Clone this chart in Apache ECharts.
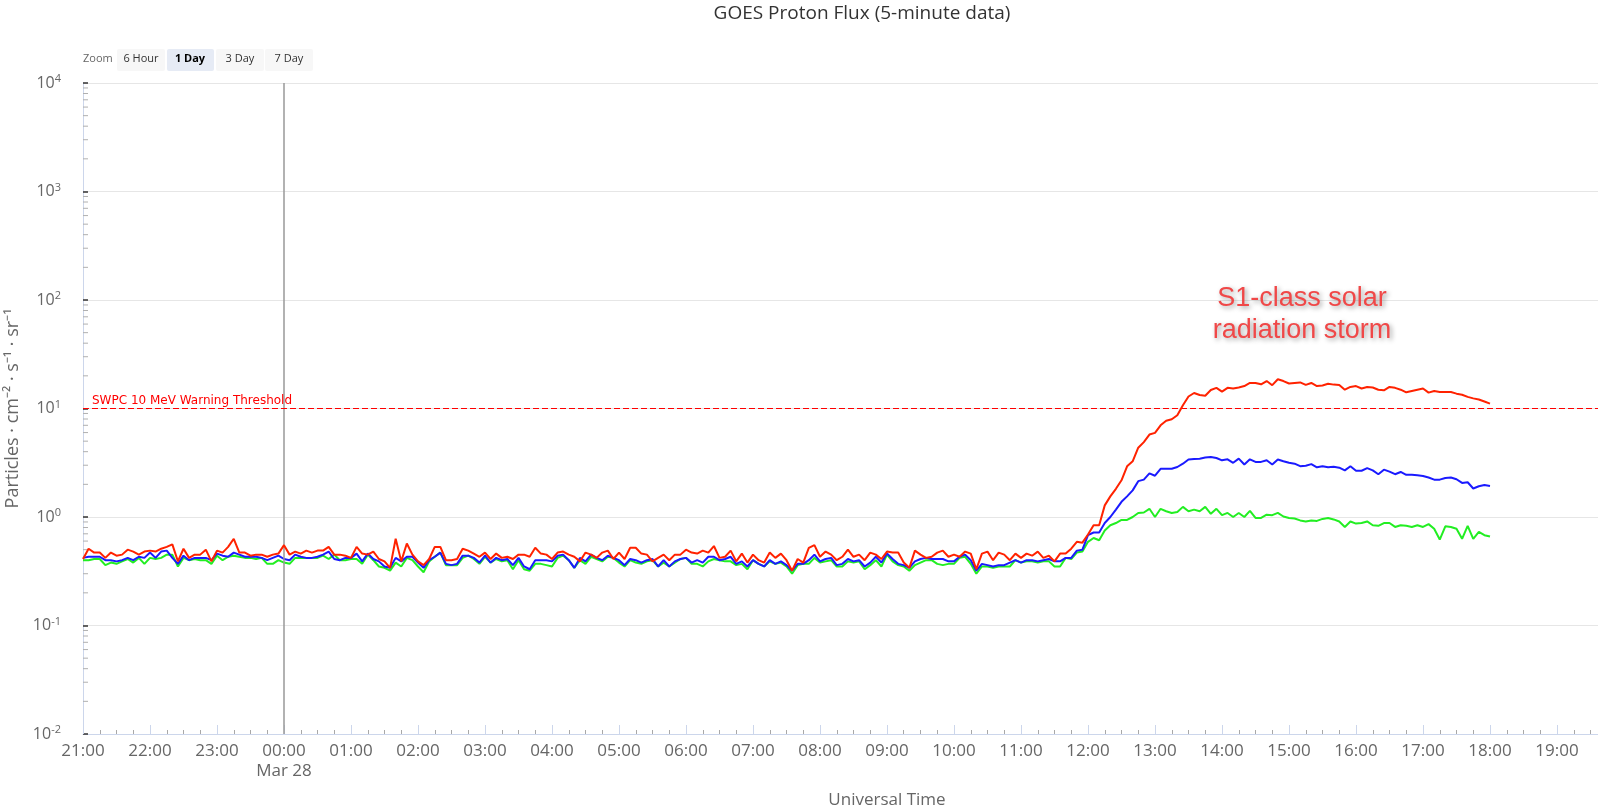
<!DOCTYPE html>
<html><head><meta charset="utf-8">
<script src="https://cdn.jsdelivr.net/npm/echarts@6/dist/echarts.min.js"></script>
<style>html,body{margin:0;padding:0;background:#fff}#c{width:1598px;height:805px}</style>
</head><body><div id="c"></div>
<script>
// ---- data (5-minute GOES proton flux, pfu) ----
const startTime = Date.UTC(2024, 2, 27, 21, 0, 0);   // first sample
const stepMinutes = 5;
const axisStart = Date.UTC(2024, 2, 27, 21, 0, 0);
const axisEnd = Date.UTC(2024, 2, 28, 21, 0, 0);
const midnightMark = Date.UTC(2024, 2, 28, 0, 0, 0);
const thresholdValue = 10;
const thresholdLabel = 'SWPC 10 MeV Warning Threshold';
const seriesNames = ['\u226510 MeV', '\u226550 MeV', '\u2265100 MeV'];
const yMinorTickValues = [
  0.02,0.03,0.04,0.05,0.06,0.07,0.08,0.09,
  0.2,0.3,0.4,0.5,0.6,0.7,0.8,0.9,
  2,3,4,5,6,7,8,9,
  20,30,40,50,60,70,80,90,
  200,300,400,500,600,700,800,900,
  2000,3000,4000,5000,6000,7000,8000,9000
];

const red10MeV = [
  0.41,0.51,0.47,0.47,0.42,0.47,0.44,0.45,0.50,0.48,
  0.45,0.48,0.49,0.48,0.51,0.53,0.56,0.39,0.51,0.42,
  0.45,0.45,0.50,0.39,0.49,0.47,0.53,0.63,0.47,0.47,
  0.44,0.45,0.45,0.43,0.45,0.46,0.55,0.45,0.48,0.46,
  0.49,0.47,0.49,0.49,0.53,0.45,0.45,0.44,0.42,0.53,
  0.46,0.45,0.48,0.41,0.39,0.34,0.63,0.39,0.57,0.45,
  0.39,0.36,0.41,0.53,0.53,0.40,0.40,0.41,0.51,0.49,
  0.46,0.43,0.47,0.41,0.46,0.42,0.43,0.41,0.45,0.45,
  0.43,0.52,0.46,0.45,0.41,0.47,0.48,0.45,0.43,0.39,
  0.47,0.45,0.42,0.47,0.49,0.41,0.47,0.41,0.52,0.52,
  0.46,0.45,0.39,0.42,0.45,0.40,0.45,0.45,0.50,0.47,
  0.46,0.49,0.47,0.54,0.42,0.43,0.49,0.39,0.46,0.38,
  0.45,0.40,0.38,0.47,0.42,0.46,0.40,0.32,0.41,0.38,
  0.52,0.55,0.43,0.48,0.45,0.40,0.43,0.50,0.43,0.45,
  0.40,0.47,0.45,0.41,0.48,0.47,0.47,0.38,0.34,0.49,
  0.45,0.42,0.43,0.47,0.49,0.43,0.45,0.43,0.48,0.46,
  0.33,0.46,0.48,0.40,0.47,0.45,0.40,0.46,0.42,0.46,
  0.44,0.48,0.42,0.44,0.39,0.46,0.46,0.51,0.59,0.58,
  0.69,0.84,0.84,1.28,1.55,1.82,2.18,2.93,3.26,4.35,
  4.9,5.75,5.96,7.0,7.7,7.95,8.67,10.7,12.9,13.9,
  13.3,13.1,14.8,15.5,14.3,15.5,15.3,15.6,16.1,17.2,
  17.2,16.7,17.9,16.4,18.6,17.9,17.0,17.2,17.4,16.5,
  17.2,16.1,16.3,16.9,16.6,16.5,14.9,15.8,16.1,15.3,
  15.8,15.6,14.9,14.7,15.8,15.5,14.9,14.1,14.5,14.9,
  15.3,14.0,14.5,14.2,14.2,14.2,13.7,13.4,12.8,12.4,
  12.1,11.6,11.1
];
const blue50MeV = [
  0.42,0.43,0.43,0.43,0.40,0.40,0.39,0.40,0.42,0.40,
  0.43,0.42,0.47,0.42,0.48,0.49,0.42,0.37,0.44,0.40,
  0.42,0.42,0.42,0.40,0.46,0.44,0.43,0.47,0.45,0.43,
  0.43,0.43,0.42,0.40,0.42,0.44,0.41,0.40,0.45,0.43,
  0.42,0.42,0.43,0.45,0.48,0.41,0.40,0.42,0.42,0.46,
  0.39,0.46,0.41,0.39,0.35,0.34,0.42,0.39,0.43,0.43,
  0.38,0.34,0.40,0.43,0.47,0.37,0.36,0.37,0.44,0.44,
  0.42,0.38,0.44,0.38,0.42,0.40,0.41,0.36,0.42,0.35,
  0.33,0.40,0.40,0.40,0.39,0.44,0.45,0.40,0.34,0.42,
  0.39,0.45,0.42,0.40,0.44,0.42,0.40,0.36,0.41,0.40,
  0.38,0.40,0.41,0.35,0.40,0.35,0.39,0.41,0.42,0.38,
  0.40,0.38,0.43,0.43,0.40,0.41,0.43,0.37,0.39,0.35,
  0.40,0.37,0.35,0.40,0.37,0.39,0.36,0.32,0.37,0.37,
  0.40,0.45,0.39,0.41,0.42,0.36,0.37,0.41,0.39,0.40,
  0.35,0.38,0.43,0.38,0.46,0.41,0.37,0.36,0.34,0.39,
  0.41,0.42,0.41,0.41,0.41,0.39,0.39,0.43,0.45,0.40,
  0.32,0.37,0.36,0.35,0.36,0.36,0.38,0.40,0.38,0.40,
  0.40,0.39,0.40,0.41,0.39,0.39,0.42,0.42,0.49,0.50,
  0.68,0.72,0.72,0.88,1.00,1.17,1.38,1.55,1.76,2.14,
  2.21,2.52,2.40,2.78,2.78,2.78,2.89,3.10,3.39,3.43,
  3.45,3.53,3.58,3.50,3.33,3.40,3.16,3.45,3.05,3.40,
  3.22,3.22,3.33,3.05,3.39,3.27,3.16,3.10,2.94,2.97,
  3.07,2.87,2.94,2.87,2.90,2.85,2.69,2.94,2.67,2.67,
  2.82,2.69,2.48,2.73,2.62,2.48,2.60,2.45,2.45,2.42,
  2.39,2.31,2.21,2.21,2.29,2.31,2.23,2.06,2.09,1.83,
  1.92,1.97,1.93
];
const green100MeV = [
  0.40,0.40,0.41,0.41,0.36,0.38,0.37,0.39,0.41,0.38,
  0.42,0.37,0.42,0.41,0.42,0.45,0.45,0.35,0.42,0.40,
  0.41,0.40,0.40,0.37,0.44,0.40,0.43,0.44,0.43,0.42,
  0.42,0.41,0.42,0.37,0.37,0.40,0.38,0.37,0.42,0.42,
  0.42,0.42,0.42,0.44,0.41,0.45,0.40,0.40,0.41,0.41,
  0.37,0.45,0.40,0.35,0.34,0.32,0.38,0.35,0.42,0.40,
  0.35,0.31,0.39,0.43,0.47,0.36,0.36,0.36,0.42,0.44,
  0.41,0.37,0.43,0.38,0.41,0.39,0.40,0.33,0.40,0.33,
  0.32,0.37,0.37,0.36,0.35,0.42,0.44,0.40,0.34,0.40,
  0.37,0.43,0.41,0.39,0.43,0.42,0.38,0.35,0.40,0.38,
  0.37,0.39,0.40,0.35,0.38,0.35,0.38,0.41,0.42,0.37,
  0.37,0.35,0.39,0.41,0.40,0.39,0.39,0.36,0.37,0.33,
  0.40,0.37,0.35,0.39,0.37,0.38,0.35,0.30,0.36,0.37,
  0.37,0.42,0.38,0.39,0.40,0.35,0.35,0.39,0.38,0.39,
  0.33,0.36,0.40,0.35,0.45,0.39,0.36,0.35,0.32,0.36,
  0.38,0.40,0.40,0.37,0.36,0.37,0.37,0.42,0.43,0.37,
  0.30,0.35,0.35,0.34,0.35,0.35,0.35,0.40,0.38,0.39,
  0.39,0.38,0.39,0.39,0.35,0.35,0.42,0.41,0.47,0.48,
  0.59,0.64,0.61,0.75,0.84,0.88,0.94,0.94,1.00,1.09,
  1.10,1.19,1.00,1.19,1.13,1.09,1.11,1.24,1.13,1.17,
  1.13,1.24,1.07,1.19,1.04,1.09,1.00,1.09,1.00,1.14,
  0.98,0.98,1.05,1.04,1.09,1.01,0.98,0.97,0.93,0.91,
  0.93,0.92,0.96,0.98,0.95,0.91,0.81,0.91,0.87,0.88,
  0.91,0.84,0.83,0.88,0.88,0.81,0.84,0.83,0.81,0.84,
  0.81,0.86,0.78,0.62,0.82,0.81,0.78,0.63,0.83,0.63,
  0.73,0.68,0.66
];

// ---- build ----
const stepMs = stepMinutes * 60000;
const toPairs = arr => arr.map((v, i) => [startTime + i * stepMs, v]);
const pad = n => (n < 10 ? '0' : '') + n;
const FONT = 'Open Sans';

const chart = echarts.init(document.getElementById('c'), null, {renderer: 'canvas'});

const lineBase = {
  type: 'line', showSymbol: false, symbol: 'none', smooth: false,
  animation: false, silent: true, lineStyle: {width: 2}
};

const option = {
  animation: false,
  backgroundColor: '#ffffff',
  grid: {left: 83, right: -93, top: 83, bottom: 71, containLabel: false, outerBoundsMode: 'none'},
  xAxis: {
    type: 'value', min: axisStart, max: axisEnd, interval: 3600000,
    name: 'Universal Time', nameLocation: 'middle', nameGap: 58,
    nameTextStyle: {color: '#666', fontSize: 17, fontFamily: FONT},
    axisLine: {show: true, lineStyle: {color: '#ccd6eb', width: 1}},
    axisTick: {show: true, inside: true, length: 9, lineStyle: {color: '#ccd6eb', width: 1}},
    minorTick: {show: true, splitNumber: 4, length: 4, lineStyle: {color: '#a8a8a8', width: 1}},
    splitLine: {show: false},
    axisLabel: {
      color: '#666', fontSize: 17, fontFamily: FONT, margin: 7, lineHeight: 20,
      showMaxLabel: false,
      formatter: v => {
        const d = new Date(v);
        const s = pad(d.getUTCHours()) + ':' + pad(d.getUTCMinutes());
        if (v === midnightMark) return s + '\nMar 28';
        return s;
      }
    }
  },
  yAxis: {
    type: 'log', logBase: 10, min: 0.01, max: 10000, interval: 1, splitNumber: 6,
    name: 'Particles \u00b7 cm\u207b\u00b2 \u00b7 s\u207b\u00b9 \u00b7 sr\u207b\u00b9',
    nameLocation: 'middle', nameGap: 56,
    nameTextStyle: {color: '#666', fontSize: 18, fontFamily: FONT},
    axisLine: {show: true, lineStyle: {color: '#ccd6eb', width: 1}},
    axisTick: {show: true, inside: true, length: 5, lineStyle: {color: '#333', width: 1.5}},
    splitLine: {show: true, lineStyle: {color: '#e6e6e6', width: 1}},
    axisLabel: {
      margin: 22,
      formatter: v => '{b|10}{s|' + Math.round(Math.log10(v)) + '}',
      rich: {
        b: {fontSize: 16, fontFamily: FONT, color: '#666', lineHeight: 19},
        s: {fontSize: 11, fontFamily: FONT, color: '#666', verticalAlign: 'top', lineHeight: 11}
      }
    }
  },
  series: [
    {
      type: 'custom', silent: true, animation: false, clip: false, z: 1,
      data: yMinorTickValues.map(v => [axisStart, v]),
      encode: {x: 0, y: 1},
      renderItem: (params, api) => {
        const p = api.coord([api.value(0), api.value(1)]);
        return {type: 'line', shape: {x1: p[0], y1: p[1], x2: p[0] + 5, y2: p[1]},
                style: {stroke: '#b0b0b0', lineWidth: 1}};
      }
    },
    Object.assign({}, lineBase, {name: seriesNames[2], data: toPairs(green100MeV), color: '#22ee22', z: 3}),
    Object.assign({}, lineBase, {name: seriesNames[1], data: toPairs(blue50MeV), color: '#1a1aff', z: 4}),
    Object.assign({}, lineBase, {
      name: seriesNames[0], data: toPairs(red10MeV), color: '#ff2200', z: 5,
      markLine: {
        silent: true, symbol: 'none', animation: false,
        data: [
          {xAxis: midnightMark, lineStyle: {color: '#999', width: 1.5, type: 'solid'}, label: {show: false}},
          {yAxis: thresholdValue, lineStyle: {color: '#ff0000', width: 1.2, type: [6, 3]},
           label: {show: true, position: 'insideStartTop', formatter: thresholdLabel,
                   color: '#ff0000', fontSize: 12, fontFamily: 'DejaVu Sans', distance: [9, 2]}}
        ]
      }
    })
  ],
  graphic: [
    {type: 'text', x: 862, y: 14, style: {text: 'GOES Proton Flux (5-minute data)', fill: '#333',
      font: '19px "Open Sans"', align: 'center', verticalAlign: 'middle'}},
    {type: 'text', x: 83, y: 59, style: {text: 'Zoom', fill: '#666', font: '11px "Open Sans"', align: 'left', verticalAlign: 'middle'}},
    {type: 'rect', shape: {x: 117, y: 49, width: 48, height: 22, r: 2}, style: {fill: '#f7f7f7'}},
    {type: 'text', x: 141, y: 59, style: {text: '6 Hour', fill: '#333', font: '11px "Open Sans"', align: 'center', verticalAlign: 'middle'}},
    {type: 'rect', shape: {x: 167, y: 49, width: 47, height: 22, r: 2}, style: {fill: '#e6ebf5'}},
    {type: 'text', x: 190, y: 59, style: {text: '1 Day', fill: '#000', font: 'bold 11px "Open Sans"', align: 'center', verticalAlign: 'middle'}},
    {type: 'rect', shape: {x: 216, y: 49, width: 48, height: 22, r: 2}, style: {fill: '#f7f7f7'}},
    {type: 'text', x: 240, y: 59, style: {text: '3 Day', fill: '#333', font: '11px "Open Sans"', align: 'center', verticalAlign: 'middle'}},
    {type: 'rect', shape: {x: 265, y: 49, width: 48, height: 22, r: 2}, style: {fill: '#f7f7f7'}},
    {type: 'text', x: 289, y: 59, style: {text: '7 Day', fill: '#333', font: '11px "Open Sans"', align: 'center', verticalAlign: 'middle'}},
    {type: 'text', x: 1302, y: 283, z: 100, style: {
      text: 'S1-class solar\nradiation storm', fill: '#f04848',
      font: '27px "Liberation Sans"', lineHeight: 32, align: 'center', verticalAlign: 'top',
      textShadowColor: 'rgba(0,0,0,0.4)', textShadowBlur: 5, textShadowOffsetX: 2, textShadowOffsetY: 2}}
  ]
};
chart.setOption(option);
</script>
</body></html>
